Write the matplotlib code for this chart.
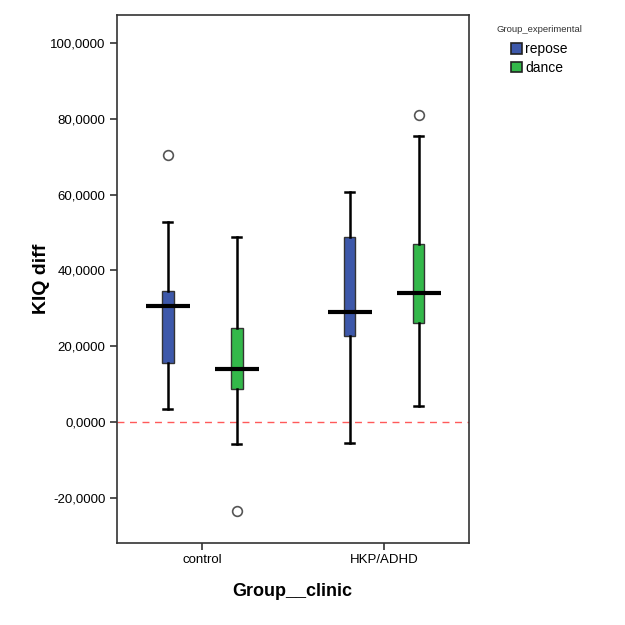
import matplotlib.pyplot as plt
from matplotlib.patches import Patch
from matplotlib.ticker import FuncFormatter

plt.rcParams['font.family'] = ['Liberation Sans', 'DejaVu Sans']

groups = ['control', 'HKP/ADHD']
series = ['repose', 'dance']
colors = {'repose': '#3d58aa', 'dance': '#33b84a'}

# five-number summaries: low whisker, q1, median, q3, high whisker
whislo = {'repose': [3.5, -5.4], 'dance': [-5.8, 4.2]}
q1 = {'repose': [15.7, 22.7], 'dance': [8.7, 26.0]}
med = {'repose': [30.7, 29.0], 'dance': [14.0, 34.1]}
q3 = {'repose': [34.6, 48.8], 'dance': [24.7, 46.9]}
whishi = {'repose': [52.8, 60.6], 'dance': [48.7, 75.6]}
fliers = {'repose': [[70.5], []], 'dance': [[-23.6], [81.1]]}

offsets = {'repose': -0.19, 'dance': 0.19}

fig = plt.figure(figsize=(6.25, 6.25), dpi=100)
ax = fig.add_axes([0.1867, 0.1307, 0.5633, 0.8453])

ax.axhline(0, color='#ff5a5a', lw=1.0, ls=(0, (5, 4)), zorder=1)

for s in series:
    stats = []
    for i in range(len(groups)):
        stats.append(dict(whislo=whislo[s][i], q1=q1[s][i], med=med[s][i],
                          q3=q3[s][i], whishi=whishi[s][i], fliers=fliers[s][i]))
    pos = [i + offsets[s] for i in range(len(groups))]
    ax.bxp(stats, positions=pos, widths=0.064, patch_artist=True,
           showfliers=True, manage_ticks=False,
           boxprops=dict(facecolor=colors[s], edgecolor='#333333', lw=1.0),
           whiskerprops=dict(color='black', lw=1.8),
           capprops=dict(color='black', lw=1.8),
           capwidths=0.05,
           medianprops=dict(lw=0),
           flierprops=dict(marker='o', markersize=7, markerfacecolor='white',
                           markeredgecolor='#555555', markeredgewidth=1.2))
    ax.hlines(med[s], [p - 0.121 for p in pos], [p + 0.121 for p in pos],
              color='black', lw=3, zorder=5)

ax.set_xlim(-0.471, 1.466)
ax.set_ylim(-32.0, 107.4)
ax.set_yticks([-20, 0, 20, 40, 60, 80, 100])
ax.yaxis.set_major_formatter(FuncFormatter(lambda v, p: ('%.4f' % v).replace('.', ',')))
ax.set_xticks(range(len(groups)))
ax.set_xticklabels(groups)
ax.tick_params(labelsize=9.5, length=5, width=1.2, color='#333333', pad=3)
for sp in ax.spines.values():
    sp.set_color('#333333')
    sp.set_linewidth(1.2)

ax.set_ylabel('KIQ diff', fontsize=14, fontweight='bold', labelpad=0)
ax.set_xlabel('Group__clinic', fontsize=13, fontweight='bold', labelpad=12)

fig.text(0.795, 0.9536, 'Group_experimental', fontsize=6.8, color='#333333',
         ha='left', va='center')
handles = [Patch(facecolor=colors[s], edgecolor='#222222', lw=1.2, label=s) for s in series]
fig.legend(handles=handles, loc='upper left', bbox_to_anchor=(0.8176, 0.932),
           frameon=False, fontsize=10, borderpad=0, borderaxespad=0,
           handlelength=0.8, handleheight=0.8, handletextpad=0.2,
           labelspacing=0.3)

fig.savefig('out.png', dpi=100)
